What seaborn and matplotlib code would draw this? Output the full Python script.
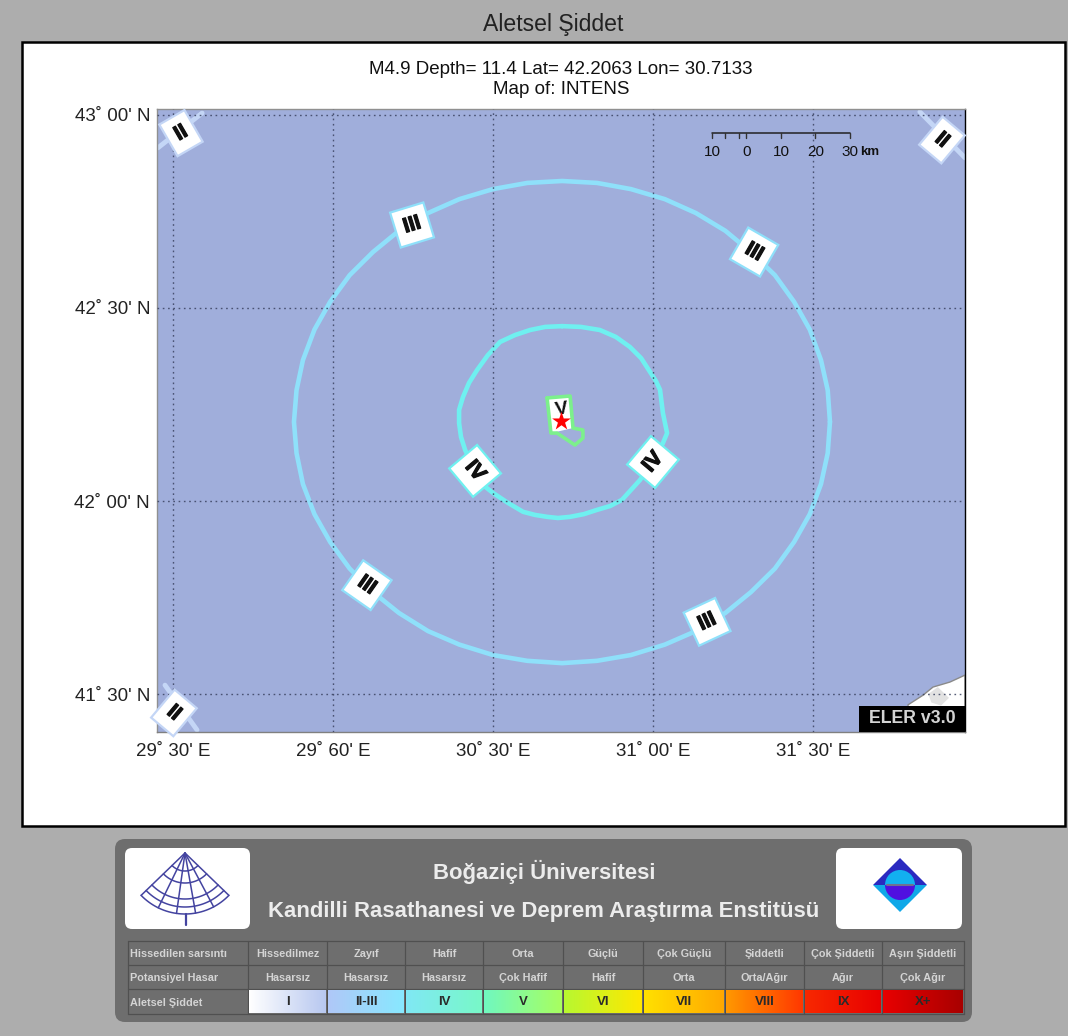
import numpy as np
import matplotlib
matplotlib.use("Agg")
import matplotlib.pyplot as plt
import matplotlib.patheffects as pe
from matplotlib.colors import LinearSegmentedColormap
from matplotlib.patches import FancyBboxPatch, Polygon, Rectangle, Wedge
import seaborn as sns

# Intensity contours (lon / lat)
ring3_lon = [31.553, 31.546, 31.525, 31.490, 31.441, 31.381, 31.306, 31.226, 31.134, 31.037, 30.931, 30.825,
             30.716, 30.607, 30.500, 30.395, 30.297, 30.206, 30.125, 30.052, 29.991, 29.942, 29.906, 29.886,
             29.878, 29.886, 29.906, 29.942, 29.991, 30.052, 30.125, 30.206, 30.297, 30.395, 30.500, 30.607,
             30.716, 30.825, 30.931, 31.037, 31.134, 31.226, 31.306, 31.381, 31.441, 31.490, 31.525, 31.546, 31.553]
ring3_lat = [42.205, 42.287, 42.365, 42.444, 42.516, 42.585, 42.645, 42.700, 42.746, 42.782, 42.808, 42.824,
             42.829, 42.824, 42.808, 42.782, 42.746, 42.700, 42.645, 42.585, 42.516, 42.444, 42.365, 42.287,
             42.205, 42.124, 42.044, 41.966, 41.894, 41.825, 41.764, 41.710, 41.663, 41.628, 41.601, 41.586,
             41.580, 41.586, 41.601, 41.628, 41.663, 41.710, 41.764, 41.825, 41.894, 41.966, 42.044, 42.124, 42.205]
ring4_lon = [30.716, 30.775, 30.834, 30.884, 30.928, 30.963, 30.991, 31.009, 31.022, 31.031, 31.044, 31.031,
             31.000, 30.959, 30.903, 30.866, 30.825, 30.784, 30.741, 30.703, 30.669, 30.631, 30.594, 30.547,
             30.500, 30.469, 30.444, 30.413, 30.400, 30.394, 30.394, 30.406, 30.425, 30.450, 30.484, 30.522,
             30.569, 30.616, 30.663, 30.716]
ring4_lat = [42.453, 42.451, 42.443, 42.425, 42.399, 42.370, 42.334, 42.311, 42.288, 42.228, 42.176, 42.150,
             42.101, 42.054, 42.003, 41.987, 41.977, 41.966, 41.959, 41.956, 41.959, 41.964, 41.972, 41.995,
             42.021, 42.041, 42.078, 42.132, 42.166, 42.202, 42.236, 42.269, 42.306, 42.339, 42.378, 42.412,
             42.430, 42.443, 42.451, 42.453]
ring5_lon = [30.669, 30.741, 30.750, 30.781, 30.781, 30.756, 30.700, 30.681, 30.669]
ring5_lat = [42.267, 42.272, 42.189, 42.184, 42.163, 42.145, 42.176, 42.176, 42.267]
patch5_lon = [30.669, 30.741, 30.750, 30.681]
patch5_lat = [42.267, 42.272, 42.189, 42.176]
corner2_lon = [[31.834, 31.975], [29.591, 29.453], [29.475, 29.575]]
corner2_lat = [[43.008, 42.889], [43.005, 42.915], [41.523, 41.407]]
coast_lon = [31.797, 31.844, 31.875, 31.928, 31.975, 31.975, 31.797]
coast_lat = [41.472, 41.497, 41.518, 41.531, 41.549, 41.402, 41.402]
shade_lon = [31.860, 31.890, 31.925, 31.900, 31.870]
shade_lat = [41.500, 41.518, 41.490, 41.470, 41.478]
epi_lon = 30.7133
epi_lat = 42.2063

# Contour labels: text, lon, lat, rotation
label_text = ["III", "III", "III", "III", "IV", "IV", "II", "II", "II"]
label_lon = [30.247, 31.316, 30.106, 31.169, 30.444, 31.000, 29.525, 31.903, 29.503]
label_lat = [42.715, 42.645, 41.782, 41.687, 42.078, 42.101, 42.953, 42.935, 41.451]
label_rot = [17, -30, -35, 25, -50, 50, 30, -40, -40]
label_edge = ["#8fe0fa"] * 4 + ["#6ff0f0"] * 2 + ["#c4d6f6"] * 3

xtick_vals = [29.5, 30.0, 30.5, 31.0, 31.5]
xtick_text = ["29˚ 30' E", "29˚ 60' E", "30˚ 30' E", "31˚ 00' E", "31˚ 30' E"]
ytick_vals = [41.5, 42.0, 42.5, 43.0]
ytick_text = ["41˚ 30' N", "42˚ 00' N", "42˚ 30' N", "43˚ 00' N"]

scale_km = [-10, 0, 10, 20, 30]
scale_minor_km = [-6.3, -2.2]
scale_text = ["10", "0", "10", "20", "30"]

# Legend table under the map
row_names = ["Hissedilen sarsıntı", "Potansiyel Hasar", "Aletsel Şiddet"]
felt = ["Hissedilmez", "Zayıf", "Hafif", "Orta", "Güçlü", "Çok Güçlü", "Şiddetli", "Çok Şiddetli", "Aşırı Şiddetli"]
damage = ["Hasarsız", "Hasarsız", "Hasarsız", "Çok Hafif", "Hafif", "Orta", "Orta/Ağır", "Ağır", "Çok Ağır"]
intensity = ["I", "II-III", "IV", "V", "VI", "VII", "VIII", "IX", "X+"]
grad_left = ["#ffffff", "#b0c8f8", "#80e8f4", "#70f8c0", "#b8f830", "#ffe000", "#ff9800", "#f82800", "#e80000"]
grad_right = ["#b8c8f0", "#88e8ff", "#78f8c8", "#a8ff60", "#ffe800", "#ffa800", "#ff3800", "#e80000", "#a80000"]
col_edges = [128, 248, 327, 405, 483, 563, 643, 725, 804, 882, 964]
row_edges = [941, 965, 989, 1014]

W, H = 1068, 1036
sns.set_theme(style="white")
plt.rcParams["font.family"] = ["Liberation Sans", "DejaVu Sans"]

fig = plt.figure(figsize=(W / 100, H / 100), dpi=100, facecolor="#adadad")

# page furniture, drawn in pixel coordinates
page = fig.add_axes([0, 0, 1, 1], zorder=0)
page.axis("off")
page.add_patch(Rectangle((22, 42), 1043, 784, fc="white", ec="black", lw=1.8))
page.text(553, 25, "Aletsel Şiddet", ha="center", va="center", fontsize=16.6, color="#222222")
page.text(561, 69, "M4.9 Depth= 11.4 Lat= 42.2063 Lon= 30.7133", ha="center", va="center", fontsize=13.5, color="#111111")
page.text(561, 90, "Map of: INTENS", ha="center", va="center", fontsize=13.5, color="#111111")

page.add_patch(FancyBboxPatch((115, 839), 857, 183, boxstyle="round,pad=0,rounding_size=10", fc="#6e6e6e", ec="none"))
page.add_patch(FancyBboxPatch((125, 848), 125, 81, boxstyle="round,pad=0,rounding_size=7", fc="white", ec="none"))
page.add_patch(FancyBboxPatch((836, 848), 126, 81, boxstyle="round,pad=0,rounding_size=7", fc="white", ec="none"))
page.text(544, 872, "Boğaziçi Üniversitesi", ha="center", va="center", fontsize=15.9, fontweight="bold", color="#ececec")
page.text(544, 911, "Kandilli Rasathanesi ve Deprem Araştırma Enstitüsü", ha="center", va="center",
          fontsize=15.9, fontweight="bold", color="#ececec")

# left logo, a fan with a globe inside
logo_col = "#4444a0"
for r in [18, 30, 46, 54, 61]:
    t = np.radians(np.linspace(44, 136, 40))
    page.plot(185 + r * np.cos(t), 853 + r * np.sin(t), color=logo_col, lw=1.1)
for a in [44, 62, 80, 98, 116, 136]:
    t = np.radians(a)
    page.plot([185, 185 + 61 * np.cos(t)], [853, 853 + 61 * np.sin(t)], color=logo_col, lw=1.1)
page.plot([186, 186], [914, 925], color=logo_col, lw=1.6)

# right logo, a diamond with a split disc
page.add_patch(Polygon([(873, 885), (900, 858), (927, 885)], fc="#2a2ac0", ec="none"))
page.add_patch(Polygon([(873, 885), (900, 912), (927, 885)], fc="#10a8e8", ec="none"))
page.add_patch(Wedge((900, 885), 15, 180, 360, fc="#12b0f0", ec="none"))
page.add_patch(Wedge((900, 885), 15, 0, 180, fc="#5010e0", ec="none"))
page.plot([887, 913], [885, 885], color="#707090", lw=1.5)

# legend table
for x in col_edges:
    page.plot([x, x], [row_edges[0], row_edges[-1]], color="#505050", lw=0.9)
for y in row_edges:
    page.plot([col_edges[0], col_edges[-1]], [y, y], color="#505050", lw=0.9)
for i, name in enumerate(row_names):
    page.text(130, (row_edges[i] + row_edges[i + 1]) / 2 + 1, name, ha="left", va="center",
              fontsize=7.8, fontweight="bold", color="#d4d4d4")
gradient = np.linspace(0, 1, 64).reshape(1, -1)
for i in range(9):
    x0, x1 = col_edges[i + 1], col_edges[i + 2]
    xc = (x0 + x1) / 2
    page.text(xc, 954, felt[i], ha="center", va="center", fontsize=7.8, fontweight="bold", color="#d4d4d4")
    page.text(xc, 978, damage[i], ha="center", va="center", fontsize=7.8, fontweight="bold", color="#d4d4d4")
    cmap = LinearSegmentedColormap.from_list("cell", [grad_left[i], grad_right[i]])
    page.imshow(gradient, cmap=cmap, aspect="auto", extent=(x0 + 1, x1 - 1, 1013, 990), zorder=3)
    page.text(xc, 1002, intensity[i], ha="center", va="center", fontsize=9.5, fontweight="bold", color="#2a2a2a", zorder=4)
page.set_xlim(0, W)
page.set_ylim(H, 0)

# the map
ax = fig.add_axes([157 / W, 1 - 732 / H, 808 / W, 623 / H], zorder=1)
ax.set_facecolor("#a0aedb")

ax.fill(coast_lon, coast_lat, fc="white", ec="#8a8a8a", lw=1, zorder=1)
ax.fill(shade_lon, shade_lat, fc="#e2e2e2", ec="none", zorder=1)
for seg_lon, seg_lat in zip(corner2_lon, corner2_lat):
    sns.lineplot(x=seg_lon, y=seg_lat, sort=False, estimator=None, color="#c4d6f6", lw=3.5, ax=ax, zorder=2)
sns.lineplot(x=ring3_lon, y=ring3_lat, sort=False, estimator=None, color="#8fe0fa", lw=3.3, ax=ax, zorder=2,
             solid_joinstyle="round")
sns.lineplot(x=ring4_lon, y=ring4_lat, sort=False, estimator=None, color="#6ff0f0", lw=3.3, ax=ax, zorder=2,
             solid_joinstyle="round")
ax.fill(patch5_lon, patch5_lat, fc="white", ec="none", zorder=2)
sns.lineplot(x=ring5_lon, y=ring5_lat, sort=False, estimator=None, color="#7cf08c", lw=2.6, ax=ax, zorder=3,
             solid_joinstyle="round")

ax.set_xlim(29.45, 31.975)
ax.set_ylim(41.4016, 43.0155)
ax.set_xticks(xtick_vals, xtick_text, fontsize=13.5, color="#222222")
ax.set_yticks(ytick_vals, ytick_text, fontsize=13.5, color="#222222")
ax.tick_params(length=0, pad=5)
ax.tick_params(axis="x", pad=8)
ax.grid(True, ls=(0, (1.2, 2.6)), color="#3a4260", lw=1, alpha=0.85)
ax.set_axisbelow(False)
ax.set_xlabel("")
ax.set_ylabel("")
for side, col in zip(["left", "top", "right", "bottom"], ["#909090", "#909090", "black", "#808080"]):
    ax.spines[side].set_color(col)
    ax.spines[side].set_linewidth(1)

heavy = [pe.withStroke(linewidth=0.9, foreground="#111111")]
for txt, lon, lat, rot, edge in zip(label_text, label_lon, label_lat, label_rot, label_edge):
    ax.text(lon, lat, txt, rotation=rot, rotation_mode="anchor", ha="center", va="center",
            fontsize=15, fontweight="bold", color="#111111", zorder=5, path_effects=heavy,
            bbox=dict(boxstyle="square,pad=0.42", fc="white", ec=edge, lw=1.6))
ax.text(30.714, 42.237, "V", rotation=8, ha="center", va="center", fontsize=14, fontweight="bold",
        color="#111111", zorder=5)
sns.scatterplot(x=[epi_lon], y=[epi_lat], marker="*", color="red", s=200, linewidth=0, ax=ax, zorder=6)

# scale bar, 34.5 px per 10 km
bar_lon = [31.292 + km * 0.01078 for km in scale_km]
bar_minor = [31.292 + km * 0.01078 for km in scale_minor_km]
ax.plot([bar_lon[0], bar_lon[-1]], [42.953, 42.953], color="#222222", lw=1.1, zorder=5)
for lon in bar_lon + bar_minor:
    ax.plot([lon, lon], [42.953, 42.941], color="#333333", lw=1, zorder=5)
for lon, txt in zip(bar_lon, scale_text):
    ax.text(lon, 42.903, txt, ha="center", va="center", fontsize=11, color="#111111", zorder=5)
ax.text(bar_lon[-1] + 0.032, 42.903, "km", ha="left", va="center", fontsize=9.5, fontweight="bold", color="#111111", zorder=5)

# ELER stamp
ax.add_patch(Rectangle((0.869, 0), 0.131, 0.042, transform=ax.transAxes, fc="black", ec="none", zorder=7))
ax.text(0.9345, 0.021, "ELER v3.0", transform=ax.transAxes, ha="center", va="center",
        fontsize=12.8, fontweight="bold", color="#d4d4d4", zorder=8)

fig.savefig("out.png", dpi=100, facecolor=fig.get_facecolor())
